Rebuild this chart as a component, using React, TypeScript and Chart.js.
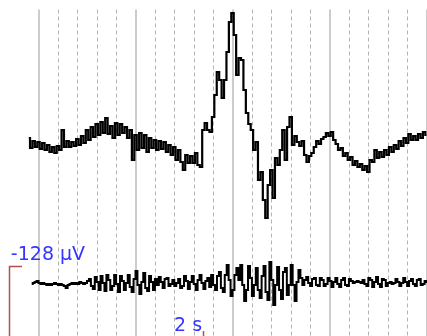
import React, { useEffect, useRef } from "react";
import { Chart, registerables } from "chart.js";

Chart.register(...registerables);

// Time axis (seconds) and amplitude axis (µV)
const X_MIN = -0.397;
const X_MAX = 4.005;
const Y_MIN = -336;
const Y_MAX = 336;

const MAJOR_SECONDS = [0, 1, 2, 3, 4];
const MINOR_STEP = 0.2;
const GRID_TOP_UV = 317;

// Channel 1 (upper trace)
const TOP_START = -0.1;
const TOP_DT = 0.025;
const TOP_OFFSET = 52;
const TOP_UV = [
  8, -12, 2, -10, 0, -14, -2, -16, -6, -20, -10, -22, -8, -16, 24, -10, 2, -10, 0, -8,
  6, -6, 12, -2, 24, 4, 30, 10, 36, 14, 40, 18, 48, 16, 32, 8, 38, 14, 36, 18,
  30, 8, 24, -36, 14, -16, 18, -12, 14, -20, 8, -12, 4, -16, 2, -14, 0, -20, -6, -26,
  -10, -36, -16, -40, -56, -26, -42, -28, -42, -22, -46, -50, 24, 38, 24, 20, 50, 94, 140, 124,
  88, 124, 180, 240, 258, 214, 134, 168, 164, 104, 58, 36, 24, -16, 0, -76, -60, -116, -152, -86,
  -56, -112, -32, -46, -16, 24, -36, 30, 50, -6, 12, 0, -8, 2, -26, -40, -28, -22, -10, 2,
  -4, 6, 10, 18, 12, 20, 4, -4, -16, -12, -28, -22, -36, -30, -46, -38, -50, -44, -56, -48,
  -60, -36, -40, -16, -32, -20, -30, -16, -26, -10, -20, -6, -14, 2, -8, 8, -2, 16, 4, 12,
  4, 16, 8, 20, 14,
];

// Channel 2 (lower trace)
const BOTTOM_START = -0.07;
const BOTTOM_DT = 0.02;
const BOTTOM_OFFSET = -230;
const BOTTOM_UV = [
  -2, 0, 2, 4, 0, -2, 0, -2, -4, -2, -4, -2, 0, -2, -4, -2, -4, -6, -10, -4,
  -2, 0, -2, 0, -2, 2, 0, -2, 0, 4, 8, -6, -12, 12, 2, -14, 14, 0, -16, 16,
  6, -14, -6, 16, -2, -18, 14, 4, -14, 0, 16, -8, -18, 8, 24, -4, -22, 2, 20, -10,
  -16, 14, 2, -14, 8, -4, 12, 2, -10, 8, 10, -6, -2, 6, -6, 0, 8, -10, -6, 14,
  4, -12, 2, 14, -2, -14, 6, 16, 0, -12, 4, 10, -8, 16, -4, -14, 14, 22, -10, -18,
  16, 36, 6, -26, -14, 16, 30, 6, 36, -4, -36, -14, 34, 10, -26, -4, 30, -14, -30, 14,
  34, -18, -34, 42, 6, -44, -4, 32, -14, -32, 22, 30, -24, -4, 36, -4, -36, 2, 26, 10,
  -4, 6, 12, 0, -6, 8, 10, -4, -6, 10, 6, -6, -2, 10, 4, -8, 2, 10, -2, -8,
  6, 10, -4, -6, 8, 4, 0, 2, 4, 2, 0, 6, -2, -6, 10, 6, -8, 2, 12, -2,
  -8, 8, 6, -6, 0, 2, -2, 0, 8, 2, -6, 0, 10, 2, -6, 4, 8, -2, -6, 6,
  8, -4, -2, 4, 2,
];

// Scale bars and labels
const AMP_LABEL = "-128 µV";
const TIME_LABEL = "2 s";
const BAR_START_S = -0.3;
const BAR_LENGTH_S = 2;
const AMP_BAR_TOP_UV = -196;
const BAR_CORNER_UV = -344;
const AMP_TICK_S = 0.13;
const TIME_TICK_TOP_UV = -326;
const AMP_LABEL_POS = { t: -0.285, uv: -184 };
const TIME_LABEL_POS = { t: 1.686, uv: -326 };

const gridPlugin = {
  id: "eegGrid",
  beforeDatasetsDraw(chart: any) {
    const { ctx, scales } = chart;
    const xs = scales.x;
    const ys = scales.y;
    const top = ys.getPixelForValue(GRID_TOP_UV);
    const bottom = chart.height;
    ctx.save();
    const nMinor = Math.round((MAJOR_SECONDS[MAJOR_SECONDS.length - 1] - MAJOR_SECONDS[0]) / MINOR_STEP);
    ctx.strokeStyle = "#b4b4b4";
    ctx.lineWidth = 1;
    ctx.setLineDash([4, 3]);
    for (let k = 0; k <= nMinor; k++) {
      if (k % 5 === 0) continue;
      const px = Math.round(xs.getPixelForValue(MAJOR_SECONDS[0] + k * MINOR_STEP)) + 0.5;
      ctx.beginPath();
      ctx.moveTo(px, top);
      ctx.lineTo(px, bottom);
      ctx.stroke();
    }
    ctx.setLineDash([]);
    ctx.strokeStyle = "#cccccc";
    ctx.lineWidth = 2;
    for (const s of MAJOR_SECONDS) {
      const px = Math.round(xs.getPixelForValue(s));
      ctx.beginPath();
      ctx.moveTo(px, top);
      ctx.lineTo(px, bottom);
      ctx.stroke();
    }
    ctx.restore();
  },
  afterDatasetsDraw(chart: any) {
    const { ctx, scales } = chart;
    const xs = scales.x;
    const ys = scales.y;
    ctx.save();
    ctx.strokeStyle = "#b45050";
    ctx.lineWidth = 1.5;
    const x0 = Math.round(xs.getPixelForValue(BAR_START_S)) + 0.5;
    const x1 = Math.round(xs.getPixelForValue(BAR_START_S + BAR_LENGTH_S)) + 0.5;
    const xt = xs.getPixelForValue(BAR_START_S + AMP_TICK_S);
    const yTop = Math.round(ys.getPixelForValue(AMP_BAR_TOP_UV)) + 0.5;
    const yCorner = ys.getPixelForValue(BAR_CORNER_UV);
    const yTick = ys.getPixelForValue(TIME_TICK_TOP_UV);
    ctx.beginPath();
    ctx.moveTo(xt, yTop);
    ctx.lineTo(x0, yTop);
    ctx.lineTo(x0, yCorner);
    ctx.lineTo(x1, yCorner);
    ctx.lineTo(x1, yTick);
    ctx.stroke();
    ctx.fillStyle = "#3535ff";
    ctx.font = '19px "DejaVu Sans"';
    ctx.textBaseline = "alphabetic";
    ctx.textAlign = "left";
    ctx.fillText(AMP_LABEL, xs.getPixelForValue(AMP_LABEL_POS.t), ys.getPixelForValue(AMP_LABEL_POS.uv));
    ctx.textAlign = "right";
    ctx.fillText(TIME_LABEL, xs.getPixelForValue(TIME_LABEL_POS.t), ys.getPixelForValue(TIME_LABEL_POS.uv));
    ctx.restore();
  },
};

export default function App() {
  const ref = useRef<HTMLCanvasElement | null>(null);
  useEffect(() => {
    if (!ref.current) return;
    const topData = TOP_UV.map((v, i) => ({ x: TOP_START + i * TOP_DT, y: TOP_OFFSET + v }));
    const bottomData = BOTTOM_UV.map((v, i) => ({ x: BOTTOM_START + i * BOTTOM_DT, y: BOTTOM_OFFSET + v }));
    const chart = new Chart(ref.current, {
      type: "line",
      data: {
        datasets: [
          { data: topData, borderColor: "#000000", borderWidth: 2.2, pointRadius: 0, stepped: "middle", fill: false },
          { data: bottomData, borderColor: "#000000", borderWidth: 2, pointRadius: 0, stepped: "middle", fill: false },
        ],
      },
      options: {
        animation: false,
        responsive: false,
        devicePixelRatio: 1,
        layout: { padding: 0 },
        plugins: { legend: { display: false }, tooltip: { enabled: false } },
        events: [],
        scales: {
          x: { type: "linear", min: X_MIN, max: X_MAX, display: false },
          y: { type: "linear", min: Y_MIN, max: Y_MAX, display: false },
        },
      },
      plugins: [gridPlugin],
    });
    return () => chart.destroy();
  }, []);
  return (
    <div style={{ position: "fixed", left: 0, top: 0, width: 427, height: 336, background: "#ffffff" }}>
      <canvas ref={ref} width={427} height={336} />
    </div>
  );
}
